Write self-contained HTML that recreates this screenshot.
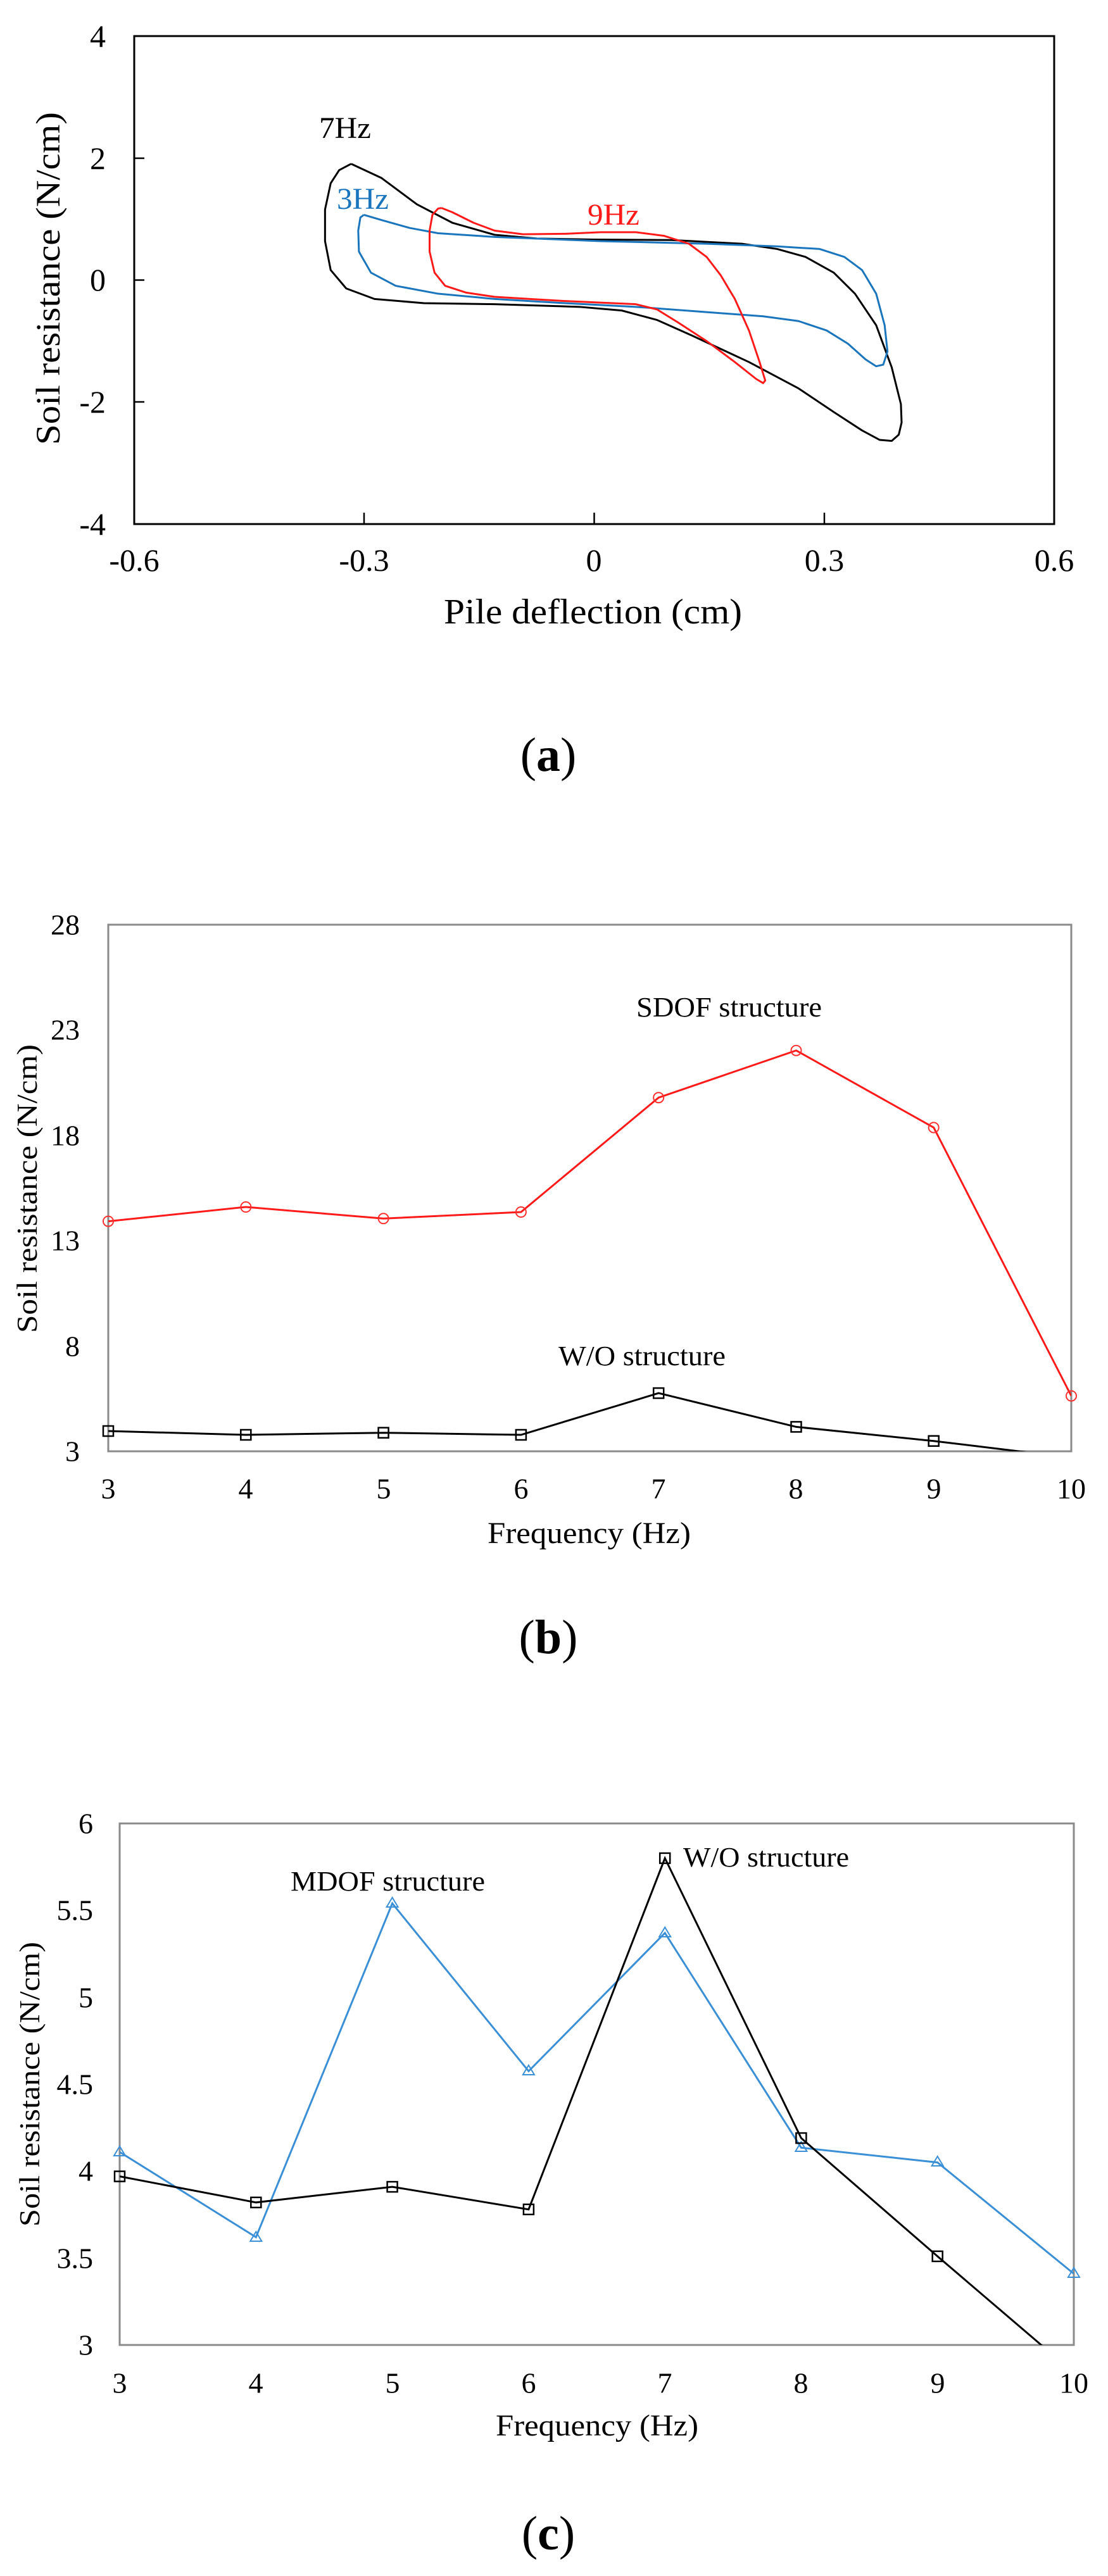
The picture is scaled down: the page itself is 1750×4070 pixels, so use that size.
<!DOCTYPE html>
<html><head><meta charset="utf-8"><style>
html,body{margin:0;padding:0;background:#fff;}
svg{display:block;}
text{font-family:"Liberation Serif",serif;fill:#000;}
</style></head><body>
<svg width="1750" height="4070" viewBox="0 0 1750 4070" xmlns="http://www.w3.org/2000/svg">
<defs>
<clipPath id="cb"><rect x="171" y="1461" width="1521" height="832"/></clipPath>
<clipPath id="cc"><rect x="189" y="2881" width="1507" height="824"/></clipPath>
</defs>

<!-- ===== Chart (a) ===== -->
<rect x="212" y="57" width="1453" height="771" fill="none" stroke="#000" stroke-width="3"/>
<g stroke="#000" stroke-width="2.5">
<line x1="575" y1="828" x2="575" y2="810"/><line x1="938.5" y1="828" x2="938.5" y2="810"/><line x1="1302" y1="828" x2="1302" y2="810"/>
<line x1="212" y1="250" x2="228" y2="250"/><line x1="212" y1="442.5" x2="228" y2="442.5"/><line x1="212" y1="635" x2="228" y2="635"/>
</g>
<g font-size="50" text-anchor="end" dominant-baseline="central">
<text x="167" y="57">4</text><text x="167" y="250">2</text><text x="167" y="442">0</text><text x="167" y="635">-2</text><text x="167" y="828">-4</text>
</g>
<g font-size="50" text-anchor="middle">
<text x="212" y="902">-0.6</text><text x="575" y="902">-0.3</text><text x="938" y="902">0</text><text x="1302" y="902">0.3</text><text x="1665" y="902">0.6</text>
</g>
<text x="701" y="985" font-size="56" textLength="471" lengthAdjust="spacingAndGlyphs">Pile deflection (cm)</text>
<text transform="translate(94,440) rotate(-90)" font-size="54" text-anchor="middle" textLength="526" lengthAdjust="spacingAndGlyphs">Soil resistance (N/cm)</text>
<g transform="matrix(1.116,0,0,0.8308,0,-1.2)" fill="none" stroke-width="3" stroke-linejoin="round">
<polyline vector-effect="non-scaling-stroke" stroke="#000" points="497,313 540,340 590,390 640,425 700,448 760,455 840,457 950,458 1050,465 1100,475 1140,490 1180,520 1210,560 1240,620 1262,700 1275,770 1276,805 1272,828 1262,840 1245,838 1220,820 1180,785 1130,740 1060,690 980,640 930,610 880,592 820,585 700,580 600,578 530,570 490,550 468,515 460,460 460,400 468,350 480,325 497,313"/>
<polyline vector-effect="non-scaling-stroke" stroke="#1a75bd" points="515,410 540,420 580,435 620,445 700,452 850,460 1000,465 1100,470 1160,475 1195,490 1220,515 1240,560 1252,620 1256,670 1250,695 1240,698 1225,685 1200,655 1170,630 1130,612 1080,603 1000,595 900,585 800,578 700,570 620,560 560,545 525,520 508,480 507,440 510,415 515,410"/>
<polyline vector-effect="non-scaling-stroke" stroke="#ff1a1a" points="625,397 640,405 670,425 700,440 740,447 800,446 850,443 900,443 940,450 975,465 1000,490 1020,525 1040,570 1060,630 1075,690 1083,725 1080,730 1070,722 1040,690 1000,650 960,615 930,590 900,580 850,577 800,574 750,570 700,566 660,558 630,545 615,520 608,480 608,440 612,410 620,398 625,397"/>
</g>
<text x="504" y="218" font-size="48" textLength="82" lengthAdjust="spacingAndGlyphs">7Hz</text>
<text x="532" y="330" font-size="48" fill="#1a75bd" style="fill:#1a75bd" textLength="82" lengthAdjust="spacingAndGlyphs">3Hz</text>
<text x="928" y="355" font-size="48" style="fill:#ff1a1a" textLength="82" lengthAdjust="spacingAndGlyphs">9Hz</text>
<text x="866" y="1218" font-size="76" text-anchor="middle">(<tspan font-weight="bold">a</tspan>)</text>

<!-- ===== Chart (b) ===== -->
<rect x="171" y="1461" width="1521" height="832" fill="none" stroke="#8a8a8a" stroke-width="3"/>
<g font-size="46" text-anchor="end" dominant-baseline="central">
<text x="126" y="1461">28</text><text x="126" y="1627">23</text><text x="126" y="1794">18</text><text x="126" y="1960">13</text><text x="126" y="2127">8</text><text x="126" y="2293">3</text>
</g>
<g font-size="46" text-anchor="middle" dominant-baseline="central">
<text x="171" y="2352">3</text><text x="388" y="2352">4</text><text x="606" y="2352">5</text><text x="823" y="2352">6</text><text x="1040" y="2352">7</text><text x="1257" y="2352">8</text><text x="1475" y="2352">9</text><text x="1692" y="2352">10</text>
</g>
<text x="770" y="2438" font-size="48" textLength="321" lengthAdjust="spacingAndGlyphs">Frequency (Hz)</text>
<text transform="translate(58,1878) rotate(-90)" font-size="46" text-anchor="middle" textLength="456" lengthAdjust="spacingAndGlyphs">Soil resistance (N/cm)</text>
<text x="1005" y="1606" font-size="44" textLength="293" lengthAdjust="spacingAndGlyphs">SDOF structure</text>
<text x="882" y="2157" font-size="44" textLength="264" lengthAdjust="spacingAndGlyphs">W/O structure</text>
<g clip-path="url(#cb)">
<polyline fill="none" stroke="#ff1a1a" stroke-width="3" points="171,1929.6 388.3,1907 605.6,1925.3 822.9,1915 1040.2,1734.2 1257.5,1659.7 1474.7,1781.5 1692,2205.5"/>
<polyline fill="none" stroke="#000" stroke-width="3" points="171,2261 388.3,2267 605.6,2263.7 822.9,2267 1040.2,2201.1 1257.5,2254.4 1474.7,2276.7 1692,2303"/>
</g>
<g fill="none" stroke="#ff3030" stroke-width="2">
<circle cx="171" cy="1929.6" r="8"/><circle cx="388.3" cy="1907" r="8"/><circle cx="605.6" cy="1925.3" r="8"/><circle cx="822.9" cy="1915" r="8"/><circle cx="1040.2" cy="1734.2" r="8"/><circle cx="1257.5" cy="1659.7" r="8"/><circle cx="1474.7" cy="1781.5" r="8"/><circle cx="1692" cy="2205.5" r="8"/>
</g>
<g fill="none" stroke="#000" stroke-width="2.5">
<rect x="163" y="2253" width="16" height="16"/><rect x="380.3" y="2259" width="16" height="16"/><rect x="597.6" y="2255.7" width="16" height="16"/><rect x="814.9" y="2259" width="16" height="16"/><rect x="1032.2" y="2193.1" width="16" height="16"/><rect x="1249.5" y="2246.4" width="16" height="16"/><rect x="1466.7" y="2268.7" width="16" height="16"/>
</g>
<text x="866" y="2612" font-size="76" text-anchor="middle">(<tspan font-weight="bold">b</tspan>)</text>

<!-- ===== Chart (c) ===== -->
<rect x="189" y="2881" width="1507" height="824" fill="none" stroke="#8a8a8a" stroke-width="3"/>
<g font-size="46" text-anchor="end" dominant-baseline="central">
<text x="147" y="2881">6</text><text x="147" y="3018">5.5</text><text x="147" y="3156">5</text><text x="147" y="3293">4.5</text><text x="147" y="3430">4</text><text x="147" y="3568">3.5</text><text x="147" y="3705">3</text>
</g>
<g font-size="46" text-anchor="middle" dominant-baseline="central">
<text x="189" y="3765">3</text><text x="404" y="3765">4</text><text x="620" y="3765">5</text><text x="835" y="3765">6</text><text x="1050" y="3765">7</text><text x="1265" y="3765">8</text><text x="1481" y="3765">9</text><text x="1696" y="3765">10</text>
</g>
<text x="783" y="3848" font-size="48" textLength="320" lengthAdjust="spacingAndGlyphs">Frequency (Hz)</text>
<text transform="translate(62,3293) rotate(-90)" font-size="46" text-anchor="middle" textLength="450" lengthAdjust="spacingAndGlyphs">Soil resistance (N/cm)</text>
<text x="459" y="2987" font-size="44" textLength="307" lengthAdjust="spacingAndGlyphs">MDOF structure</text>
<text x="1079" y="2949" font-size="44" textLength="262" lengthAdjust="spacingAndGlyphs">W/O structure</text>
<g clip-path="url(#cc)">
<polyline fill="none" stroke="#3a8fd6" stroke-width="3" points="189,3400.1 404.3,3534.7 619.6,3007.3 834.9,3272.4 1050.2,3054 1265.4,3393.3 1480.7,3416.6 1696,3592.4"/>
<polyline fill="none" stroke="#000" stroke-width="3" points="189,3438.6 404.3,3479.8 619.6,3455.1 834.9,3490.8 1050.2,2935.9 1265.4,3378.1 1480.7,3564.9 1696,3749"/>
</g>
<g fill="none" stroke="#3a8fd6" stroke-width="2">
<polygon points="189,3391 180,3406 198,3406"/><polygon points="404.3,3526 395.3,3541 413.3,3541"/><polygon points="619.6,2998 610.6,3013 628.6,3013"/><polygon points="834.9,3263 825.9,3278 843.9,3278"/><polygon points="1050.2,3045 1041.2,3060 1059.2,3060"/><polygon points="1265.4,3384 1256.4,3399 1274.4,3399"/><polygon points="1480.7,3407 1471.7,3422 1489.7,3422"/><polygon points="1696,3583 1687,3598 1705,3598"/>
</g>
<g fill="none" stroke="#000" stroke-width="2.5">
<rect x="181" y="3430.6" width="16" height="16"/><rect x="396.3" y="3471.8" width="16" height="16"/><rect x="611.6" y="3447.1" width="16" height="16"/><rect x="826.9" y="3482.8" width="16" height="16"/><rect x="1042.2" y="2927.9" width="16" height="16"/><rect x="1257.4" y="3370.1" width="16" height="16"/><rect x="1472.7" y="3556.9" width="16" height="16"/>
</g>
<text x="866" y="4028" font-size="76" text-anchor="middle">(<tspan font-weight="bold">c</tspan>)</text>
</svg>
</body></html>
